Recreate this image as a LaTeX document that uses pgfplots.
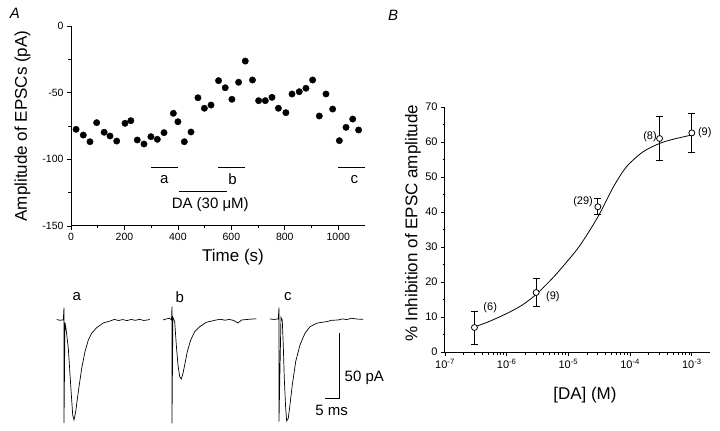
\documentclass[border=0pt]{standalone}
\usepackage{fontspec}
\setmainfont{Liberation Sans}
\usepackage{pgfplots}
\pgfplotsset{compat=1.18}

\begin{document}
\begin{tikzpicture}
\path[use as bounding box] (0,0) rectangle (720bp,431bp);

\node[font=\fontsize{15bp}{17bp}\selectfont\itshape] at (15bp,418bp) {A};
\node[font=\fontsize{15bp}{17bp}\selectfont\itshape] at (393bp,416bp) {B};

% ---- panel A: time course ----
\begin{axis}[
    at={(71bp,205bp)}, anchor=south west,
    scale only axis, width=294bp, height=200bp,
    xmin=0, xmax=1100, ymin=-150, ymax=0,
    axis x line*=bottom, axis y line*=left,
    axis line style={line width=1bp},
    xtick={0,200,...,1000}, minor x tick num=1,
    ytick={-150,-100,-50,0}, minor y tick num=1,
    tick align=outside, major tick length=4bp, minor tick length=2.5bp,
    tick style={line width=0.8bp, black},
    /pgf/number format/assume math mode=true,
    /pgf/number format/1000 sep={},
    tick label style={font=\fontsize{10.5bp}{12bp}\selectfont},
    xlabel={Time (s)}, ylabel={Amplitude of EPSCs (pA)},
    label style={font=\fontsize{17bp}{19bp}\selectfont},
    x label style={at={(axis description cs:0.551,-0.155)}, anchor=center},
    y label style={at={(axis description cs:-0.165,0.5)}, anchor=center},
    clip=false,
]
\addplot[only marks, mark=*, mark size=3.2bp, black] coordinates {
    (19,-77.5) (46,-81.8) (71,-86.8) (96,-72.5) (124,-79.7) (146,-82.5)
    (171,-86.3) (202,-73) (224,-71) (248,-85.5) (273,-88.5) (299,-83)
    (323,-85) (348,-80) (383,-65.5) (400,-71.8) (424,-86.8) (449,-79.5)
    (475,-53.8) (499,-61.7) (524,-59.3) (552,-41) (577,-46.3) (602,-55)
    (627,-42.2) (652,-26.3) (679,-40.5) (702,-56) (727,-56) (752,-53.5)
    (776,-61.7) (804,-65) (827,-51) (854,-49.3) (879,-46.7) (904,-40.5)
    (929,-67.5) (954,-51) (979,-62.3) (1004,-86) (1029,-76) (1054,-69.8)
    (1076,-78)
};
% sampling periods and drug application
\addplot[black, line width=1bp] coordinates {(300,-106) (400,-106)};
\addplot[black, line width=1bp] coordinates {(550,-106) (650,-106)};
\addplot[black, line width=1bp] coordinates {(1000,-106) (1100,-106)};
\addplot[black, line width=1.4bp] coordinates {(405,-124) (585,-124)};
\node[font=\fontsize{15bp}{17bp}\selectfont] at (axis cs:349,-115.5) {a};
\node[font=\fontsize{15bp}{17bp}\selectfont] at (axis cs:604,-114.5) {b};
\node[font=\fontsize{15bp}{17bp}\selectfont] at (axis cs:1060,-115) {c};
\node[font=\fontsize{15bp}{17bp}\selectfont] at (axis cs:521,-134) {DA (30 μM)};
\end{axis}

% ---- panel A: example traces ----
\begin{axis}[
    at={(50bp,0bp)}, anchor=south west,
    scale only axis, width=320bp, height=136bp,
    xmin=0, xmax=114.3, ymin=-85.4, ymax=19.2,
    hide axis, clip=false,
]
\addplot[black, line width=0.7bp] coordinates {
    (2.39,0.3) (3.5,-0.2) (4.75,0) (5.0,9.5) (5.0,-79.2) (5.35,-2)
    (5.71,-6.4) (6.54,-21.8) (7.39,-50) (8.11,-73.1) (8.57,-76.9)
    (9.18,-70.5) (10.11,-55.2) (11.32,-37.2) (12.5,-24.4) (13.68,-15.4)
    (14.89,-10.2) (16.68,-5.9) (19.04,-2.3) (21.43,-0.8) (23,0.4)
    (24.5,-0.4) (26,0.3) (27.5,-0.5) (29,0.4) (30.5,-0.3) (32,0.5)
    (33.5,-0.4) (35.7,0.3)
};
\addplot[black, line width=0.7bp] coordinates {
    (40.36,0) (41.5,0.8) (42.75,1.3) (43.4,0) (43.57,10.2) (43.57,-79.5)
    (43.9,2) (44.54,-1.3) (45.11,-19.2) (45.71,-34.6) (46.32,-43.6)
    (46.89,-45.4) (47.5,-41) (48.11,-34.6) (49.04,-24.4) (50.25,-15.4)
    (51.68,-9) (53.46,-5.2) (55.82,-1.8) (59.39,0) (61,0.5) (62.5,-0.2)
    (64,0.4) (65.5,-0.3) (67.1,-2.3) (68.5,0) (70,0.3) (71.5,0.6)
    (73.68,0.9)
};
\addplot[black, line width=0.7bp] coordinates {
    (78.57,0.8) (80,0.4) (81.54,0.8) (81.79,9.5) (81.79,-78.2) (82.5,2)
    (82.96,0) (83.32,-19.2) (83.68,-44.8) (84.18,-67.9) (84.54,-77.7)
    (85.11,-75.6) (85.71,-65.4) (86.54,-50) (87.75,-32.1) (89.29,-19.2)
    (91.07,-10.2) (92.86,-5.2) (95.25,-2.5) (96.5,-2.0) (98.82,-1.3)
    (100.5,-0.3) (102.96,0) (104.5,0.8) (106,0.3) (107.75,1.3)
    (109.5,0.7) (111.89,0.5)
};
% scale bar: 5 ms, 50 pA
\addplot[black, line width=0.8bp] coordinates {(98.2,-60) (103.2,-60) (103.2,-10)};
\node[font=\fontsize{15bp}{17bp}\selectfont, anchor=west] at (axis cs:104.0,-44.6) {50 pA};
\node[font=\fontsize{15bp}{17bp}\selectfont] at (axis cs:100.6,-69.2) {5 ms};
\node[font=\fontsize{15bp}{17bp}\selectfont] at (axis cs:9.6,17.7) {a};
\node[font=\fontsize{15bp}{17bp}\selectfont] at (axis cs:46.4,17.7) {b};
\node[font=\fontsize{15bp}{17bp}\selectfont] at (axis cs:85.0,18.3) {c};
\end{axis}

% ---- panel B: concentration-response ----
\begin{axis}[
    at={(445bp,79bp)}, anchor=south west,
    scale only axis, width=265bp, height=245bp,
    xmode=log, log basis x=10,
    xmin=1e-7, xmax=1.97e-3, ymin=0, ymax=70,
    axis x line*=bottom, axis y line*=left,
    axis line style={line width=1bp},
    ytick={0,10,...,70}, minor y tick num=1,
    tick align=outside, major tick length=4bp, minor tick length=2.5bp,
    tick style={line width=0.8bp, black},
    /pgf/number format/assume math mode=true,
    xticklabel={10\textsuperscript{\pgfmathprintnumber[fixed,precision=0]{\tick}}},
    tick label style={font=\fontsize{11bp}{13bp}\selectfont},
    xlabel={[DA] (M)}, ylabel={\% Inhibition of EPSC amplitude},
    label style={font=\fontsize{17bp}{19bp}\selectfont},
    x label style={at={(axis description cs:0.528,-0.176)}, anchor=center},
    y label style={at={(axis description cs:-0.121,0.527)}, anchor=center},
    clip=false,
]
\addplot[black, line width=0.8bp, smooth] coordinates {
    (3.02e-7,7.2) (5.01e-7,8.6) (1e-6,11.0) (1.78e-6,13.4) (3.02e-6,16.5)
    (5.01e-6,20.3) (7.24e-6,23.4) (1.35e-5,29.1) (2.0e-5,33.5)
    (3.16e-5,39.3) (5.37e-5,47.2) (8.71e-5,52.9) (1.62e-4,57.2)
    (3.02e-4,59.6) (5.01e-4,60.8) (1e-3,62.0)
};
\addplot[black, only marks, mark=*, mark size=3bp,
    mark options={fill=white, draw=black, line width=0.8bp},
    error bars/.cd, y dir=both, y explicit,
    error bar style={line width=0.9bp},
    error mark options={rotate=90, mark size=3.5bp, line width=0.9bp},
] coordinates {
    (3e-7,7.0) +- (0,4.7)
    (3e-6,17.0) +- (0,4.1)
    (3e-5,41.5) +- (0,2.3)
    (3e-4,61.0) +- (0,6.2)
    (1e-3,62.6) +- (0,5.7)
};
\node[font=\fontsize{11bp}{13bp}\selectfont] at (axis cs:5.4e-7,12.6) {(6)};
\node[font=\fontsize{11bp}{13bp}\selectfont] at (axis cs:5.6e-6,15.7) {(9)};
\node[font=\fontsize{11bp}{13bp}\selectfont] at (axis cs:1.73e-5,42.9) {(29)};
\node[font=\fontsize{11bp}{13bp}\selectfont] at (axis cs:2.1e-4,61.4) {(8)};
\node[font=\fontsize{11bp}{13bp}\selectfont] at (axis cs:1.62e-3,62.6) {(9)};
\end{axis}
\end{tikzpicture}
\end{document}
